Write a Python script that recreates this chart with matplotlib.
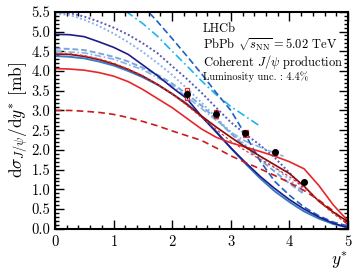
import numpy as np
import matplotlib
matplotlib.use("Agg")
import matplotlib.pyplot as plt
from matplotlib.patches import Rectangle
from matplotlib.ticker import MultipleLocator, FormatStrFormatter

plt.rcParams['font.family'] = 'serif'
plt.rcParams['font.serif'] = ['cmr10', 'DejaVu Serif']
plt.rcParams['mathtext.fontset'] = 'cm'
plt.rcParams['axes.formatter.use_mathtext'] = True

# measured points
pt_x = [2.25, 2.75, 3.25, 3.75, 4.25]
pt_y = [3.41, 2.92, 2.42, 1.94, 1.19]
pt_stat = [0.12, 0.08, 0.07, 0.07, 0.07]
pt_syst = [0.15, 0.10, 0.09, 0.06, 0.04]

# model curves
ys = [0, 0.25, 0.5, 0.75, 1.0, 1.25, 1.5, 1.75, 2.0, 2.25, 2.5,
      2.75, 3.0, 3.25, 3.5, 3.75, 4.0, 4.25, 4.5, 4.75, 5.0]
navy = [4.93, 4.92, 4.87, 4.74, 4.60, 4.42, 4.15, 3.88, 3.58, 3.30, 2.85,
        2.45, 2.05, 1.68, 1.33, 1.02, 0.74, 0.50, 0.30, 0.14, 0.03]
steel = [4.38, 4.36, 4.32, 4.24, 4.14, 4.00, 3.84, 3.65, 3.42, 3.17, 2.85,
         2.47, 2.05, 1.65, 1.28, 0.95, 0.68, 0.44, 0.26, 0.12, 0.03]
maroon = [4.43, 4.42, 4.37, 4.29, 4.18, 4.04, 3.87, 3.66, 3.42, 3.15, 2.86,
          2.58, 2.32, 2.07, 1.84, 1.62, 1.40, 1.08, 0.70, 0.42, 0.18]
red_dash_up = [4.45, 4.44, 4.39, 4.31, 4.20, 4.05, 3.88, 3.66, 3.42, 3.13, 2.82,
               2.52, 2.22, 1.98, 1.76, 1.55, 1.32, 1.05, 0.70, 0.38, 0.12]
red_dash_low = [3.00, 3.00, 2.98, 2.95, 2.90, 2.82, 2.72, 2.61, 2.48, 2.36, 2.24,
                2.05, 1.85, 1.68, 1.52, 1.35, 1.17, 0.97, 0.73, 0.45, 0.10]
red = [4.06, 4.05, 4.02, 3.96, 3.87, 3.73, 3.53, 3.30, 3.07, 2.80, 2.53,
       2.32, 2.18, 2.07, 1.96, 1.84, 1.70, 1.52, 1.10, 0.60, 0.20]
lb_dash = [4.57, 4.56, 4.53, 4.45, 4.36, 4.24, 4.08, 3.90, 3.68, 3.42, 3.12,
           2.78, 2.42, 2.08, 1.75, 1.45, 1.15, 0.88]
dark_dot = [5.50, 5.47, 5.38, 5.25, 5.10, 4.92, 4.70, 4.45, 4.12, 3.80, 3.45,
            3.07, 2.70, 2.40, 2.12, 1.80, 1.42, 1.00]
light_dot = [5.45, 5.42, 5.30, 5.14, 4.95, 4.73, 4.48, 4.20, 3.90, 3.56, 3.20,
             2.82, 2.45, 2.12, 1.83, 1.55, 1.25, 0.92]

lb_dd_x = [0, 0.5, 1.0, 1.5, 2.0, 2.5, 2.75, 3.0, 3.25, 3.5, 3.75, 3.9]
lb_dd = [4.50, 4.46, 4.30, 4.03, 3.63, 3.05, 2.75, 2.45, 2.22, 2.07, 1.92, 1.84]

blue_dash_x = [1.5, 1.75, 2.0, 2.25, 2.5, 2.75, 3.0, 3.25, 3.5, 3.75, 4.0, 4.25, 4.5, 4.75, 5.0]
blue_dash = [5.65, 5.25, 4.82, 4.38, 3.93, 3.45, 3.00, 2.38, 1.72, 1.20, 0.85, 0.55, 0.33, 0.17, 0.07]

cyan_x = [1.0, 1.25, 1.5, 1.75, 2.0, 2.25, 2.5, 2.75, 3.0, 3.25, 3.5]
cyan = [5.80, 5.47, 5.20, 4.88, 4.50, 4.13, 3.75, 3.40, 3.10, 2.85, 2.60]

fig = plt.figure(figsize=(3.57, 2.75), dpi=100)
ax = fig.add_axes([0.154, 0.168, 0.821, 0.789])

n = len(lb_dash)
ax.plot(ys[:n], light_dot, color='#8db3ea', lw=1.4, ls=(0, (1, 1.2)))
ax.plot(ys[:n], dark_dot, color='#5a5ab8', lw=1.4, ls=(0, (1, 1.2)))
ax.plot(ys[:n], lb_dash, color='#7aa6dc', lw=1.4, ls=(0, (3, 1.5)))
ax.plot(lb_dd_x, lb_dd, color='#86b4e4', lw=1.2, ls=(0, (4, 1.5, 1, 1.5)))
ax.plot(cyan_x, cyan, color='#1eb4f0', lw=1.2, ls=(0, (5, 2, 1, 2)))
ax.plot(blue_dash_x, blue_dash, color='#1f5fc4', lw=1.2, ls=(0, (4, 2)))
ax.plot(ys, steel, color='#3a7cc4', lw=1.4)
ax.plot(ys, navy, color='#1c1c8a', lw=1.2)
ax.plot(ys, red_dash_low, color='#cc1a1a', lw=1.2, ls=(0, (4, 2.5)))
ax.plot(ys, red, color='#e8262b', lw=1.2)
ax.plot(ys, maroon, color='#8b0a0a', lw=1.2)
ax.plot(ys, red_dash_up, color='#e03030', lw=0.9, ls=(0, (2, 2)))

for x, y, s in zip(pt_x, pt_y, pt_syst):
    ax.add_patch(Rectangle((x - 0.035, y - s), 0.07, 2 * s, facecolor='white',
                           edgecolor='#e8262b', lw=0.9, zorder=5))
ax.errorbar(pt_x, pt_y, yerr=pt_stat, fmt='o', color='black', ms=4,
            elinewidth=1.0, capsize=0, zorder=6)

ax.set_xlim(0, 5)
ax.set_ylim(0, 5.5)
ax.xaxis.set_major_locator(MultipleLocator(1))
ax.xaxis.set_minor_locator(MultipleLocator(0.2))
ax.yaxis.set_major_locator(MultipleLocator(0.5))
ax.yaxis.set_minor_locator(MultipleLocator(0.1))
ax.yaxis.set_major_formatter(FormatStrFormatter('%.1f'))
ax.tick_params(which='both', direction='in', top=True, right=True, labelsize=10.5, width=1.0)
ax.tick_params(which='major', length=6.5)
ax.tick_params(which='minor', length=3.2)
for sp in ax.spines.values():
    sp.set_linewidth(1.5)

ax.set_xlabel(r'$y^{*}$', fontsize=12.5, loc='right', labelpad=2)
ax.set_ylabel(r'$\mathrm{d}\sigma_{J/\psi}/\mathrm{d}y^{*}$ [mb]', fontsize=12.5, labelpad=1)

ax.text(0.505, 0.92, 'LHCb', transform=ax.transAxes, fontsize=9.0, va='center')
ax.text(0.505, 0.845, r'PbPb $\sqrt{s_{\rm NN}}=5.02$ TeV', transform=ax.transAxes, fontsize=9.0, va='center')
ax.text(0.505, 0.77, r'Coherent $J/\psi$ production', transform=ax.transAxes, fontsize=9.0, va='center')
ax.text(0.505, 0.70, 'Luminosity unc. : 4.4%', transform=ax.transAxes, fontsize=7.5, va='center')

fig.savefig('out.png', dpi=100)
